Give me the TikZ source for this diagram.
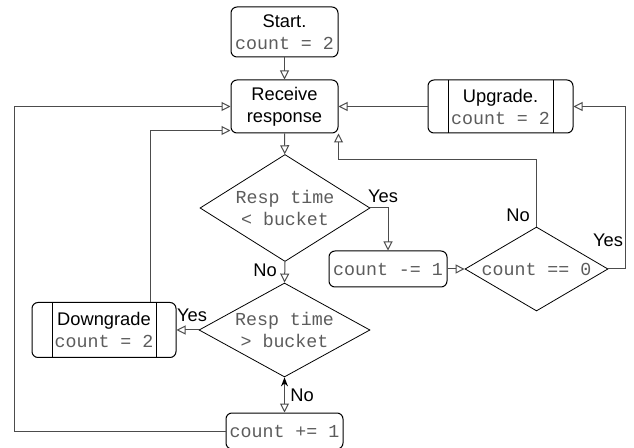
\documentclass[tikz,border=0pt]{standalone}
\usepackage{fontspec}
\setmainfont{Liberation Sans}
\setmonofont{Liberation Mono}
\usepackage{tikz}
\usetikzlibrary{arrows.meta}
\usetikzlibrary{shapes.geometric}
\usetikzlibrary{calc}
\definecolor{codegray}{HTML}{5C5C5C}
\newcommand{\code}[1]{{\ttfamily\color{codegray}#1}}

\begin{document}
\begin{tikzpicture}[x=1pt,y=1pt,
    font=\fontsize{18.3}{22}\selectfont,
    box/.style={draw, line width=1pt, rounded corners=6pt, align=center, inner sep=0pt},
    subproc/.style={box, path picture={
        \draw[line width=1pt] ([xshift=20pt]path picture bounding box.north west) -- ([xshift=20pt]path picture bounding box.south west);
        \draw[line width=1pt] ([xshift=-20pt]path picture bounding box.north east) -- ([xshift=-20pt]path picture bounding box.south east);}},
    decision/.style={draw, line width=0.8pt, diamond, inner sep=0pt, align=center},
    flow/.style={draw=black!70, line width=1pt, -{Triangle[open, length=9pt, width=9pt]}},
    label text/.style={inner sep=1pt}]
  \useasboundingbox (0,0) rectangle (634,447);

  % boxes
  \node[box, minimum width=107pt, minimum height=50pt] (start) at (284.5,415) {Start.\\\code{count = 2}};
  \node[box, minimum width=107pt, minimum height=53pt] (receive) at (284.5,340.5) {Receive\\response};
  \node[subproc, minimum width=145pt, minimum height=53pt] (upgrade) at (500.5,340.5) {Upgrade.\\\code{count = 2}};
  \node[subproc, minimum width=144pt, minimum height=55pt] (downgrade) at (104,117) {Downgrade\\\code{count = 2}};
  \node[box, minimum width=118pt, minimum height=36pt] (decrement) at (388,178) {\code{count -= 1}};
  \node[box, minimum width=117pt, minimum height=36pt] (increment) at (284.5,16) {\code{count += 1}};

  % decisions
  \node[decision, aspect=1.59, minimum width=170pt, minimum height=107pt] (faster) at (285,239) {\code{Resp time}\\\code{< bucket}};
  \node[decision, aspect=1.82, minimum width=171pt, minimum height=94pt] (slower) at (284.5,117) {\code{Resp time}\\\code{> bucket}};
  \node[decision, aspect=1.7, minimum width=143pt, minimum height=84pt] (zero) at (536.5,178) {\code{count == 0}};

  % connectors
  \draw[flow] (start) -- (receive);
  \draw[flow] (receive) -- (faster);
  \draw[flow] (faster.east) -| (decrement.north);
  \draw[flow] (decrement) -- (zero);
  \draw[flow] (faster.south) -- (slower.north);
  \draw[flow] (slower.west) -- (downgrade.east);
  \draw[flow] (upgrade) -- (receive);
  \coordinate (zeroNo) at (536.5,287);
  \draw[flow] (zero.north) -- (zeroNo) -| (receive.south east);
  \draw[flow] (zero.east) -- ++(17,0) |- (upgrade.east);
  \draw[flow] ([xshift=46pt]downgrade.north) |- ([yshift=3pt]receive.south west);
  \draw[flow] (increment.west) -- ++(-211,0) |- (receive.west);
  \draw[flow, {Stealth[length=9pt, width=7pt, black]}-{Triangle[open, length=9pt, width=9pt]}] (slower.south) -- (increment.north);

  % labels
  \node[label text] (yes1) at (383,251) {Yes};
  \node[label text, anchor=east] (no1) at (278,177) {No};
  \node[label text] (no2) at (518,232) {No};
  \node[label text] (yes2) at (608,207) {Yes};
  \node[label text] (yes3) at (192,132) {Yes};
  \node[label text] (no3) at (302,52) {No};
\end{tikzpicture}
\end{document}
